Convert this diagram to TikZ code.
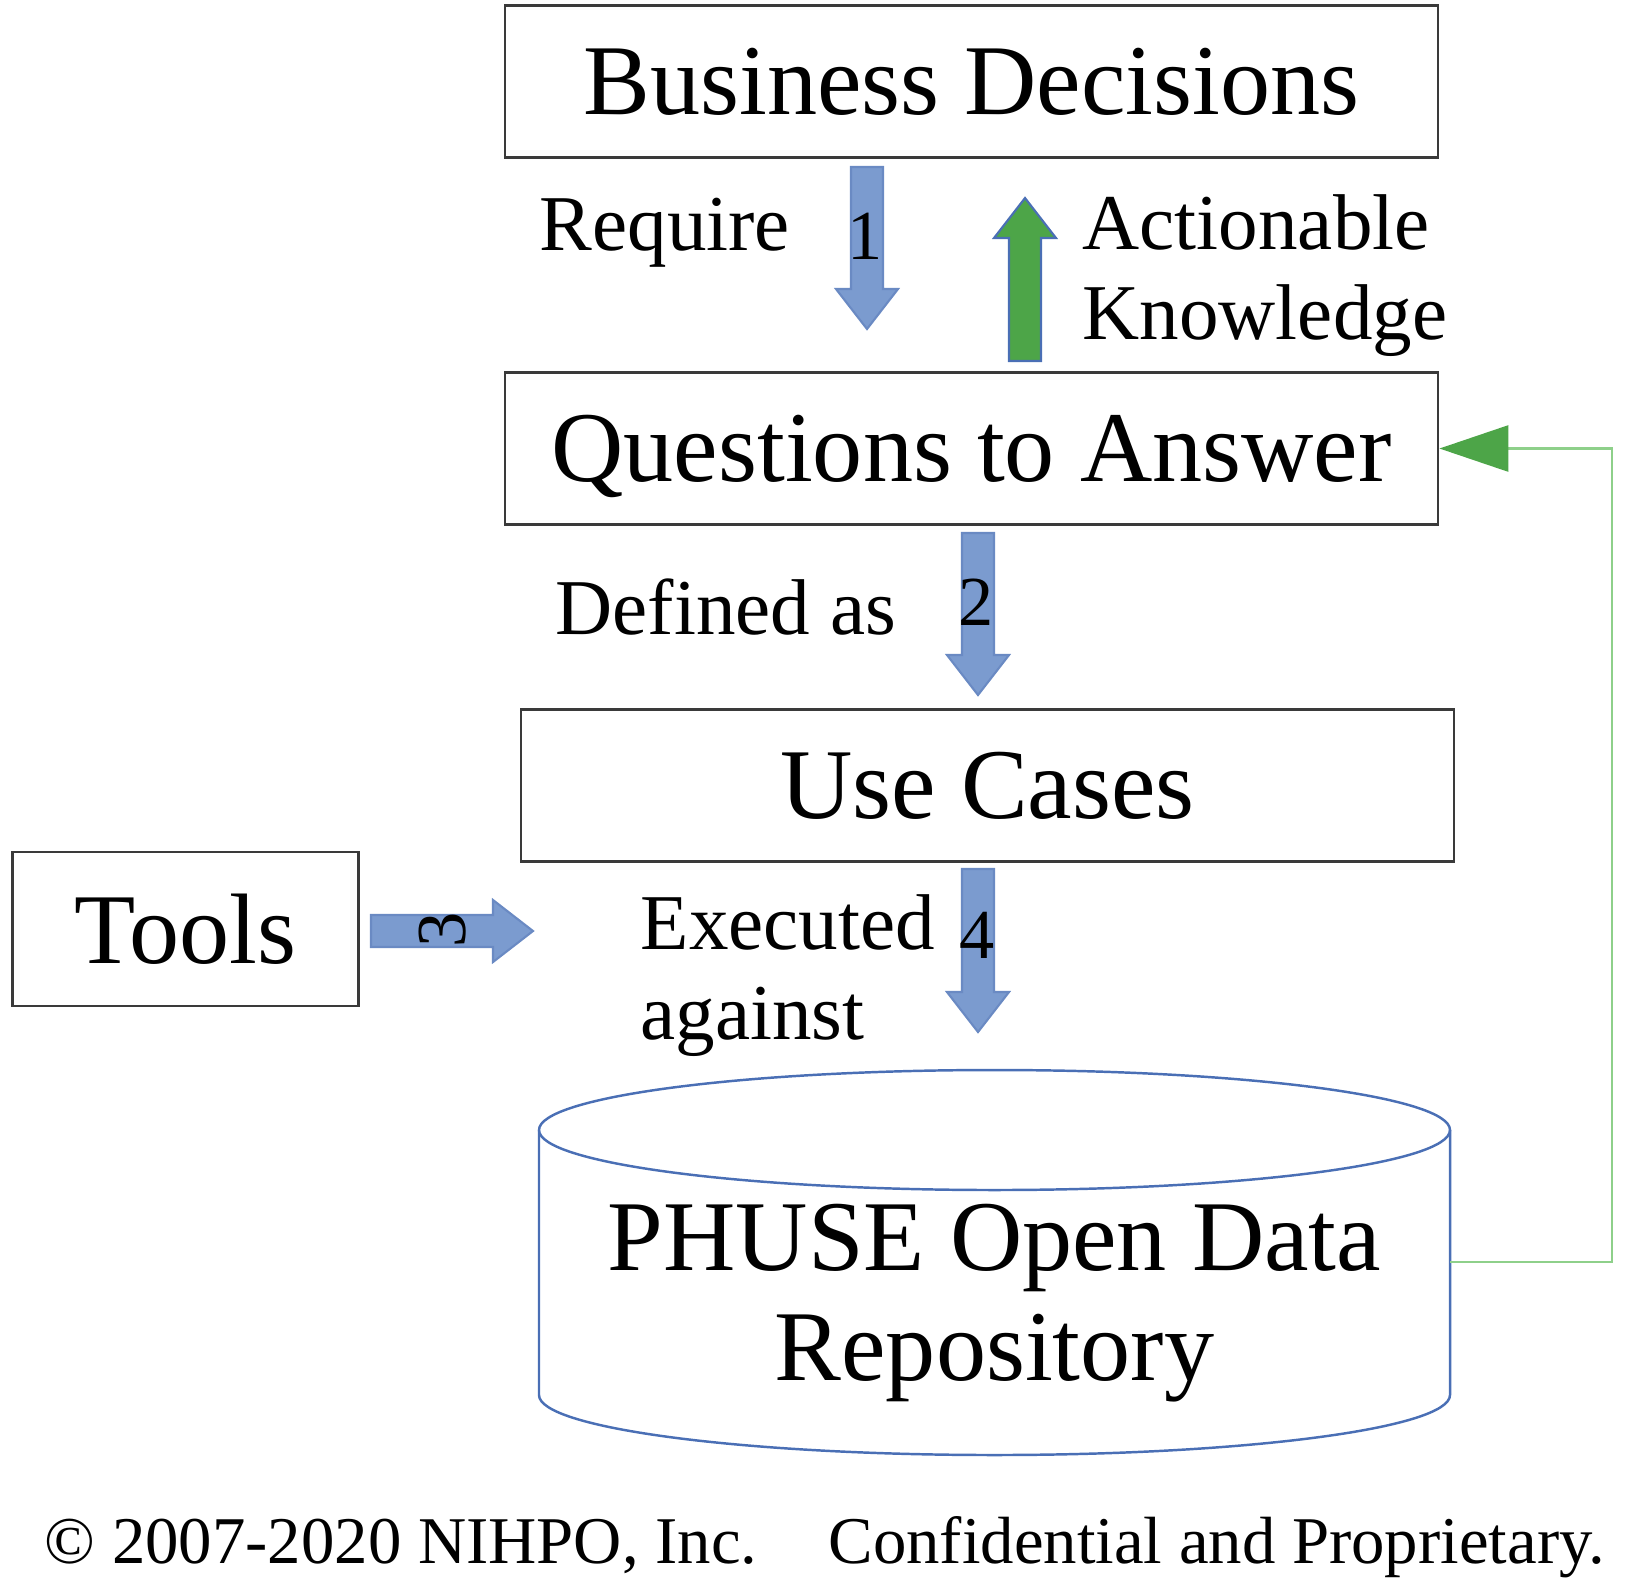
\documentclass[tikz,border=0pt]{standalone}
\usepackage{fontspec}
\setmainfont{Liberation Serif}
\usetikzlibrary{arrows.meta}

\definecolor{boxgrey}{HTML}{3A3A3A}
\definecolor{arrowblue}{HTML}{7B9BCF}
\definecolor{edgeblue}{HTML}{6A8AC3}
\definecolor{repoblue}{HTML}{4A6FB5}
\definecolor{knowgreen}{HTML}{4DA548}
\definecolor{loopgreen}{HTML}{8ED08A}

\def\boxwidth{9.33cm}
\def\boxheight{1.52cm}

\begin{document}
\begin{tikzpicture}
		\tikzstyle{box}=[draw=boxgrey,line width=0.8pt,minimum width=\boxwidth,minimum height=\boxheight,inner sep=0pt,font=\fontsize{28.5}{31.5}\selectfont]
		\tikzstyle{label}=[anchor=base west,inner sep=0pt,align=left,font=\fontsize{22.5}{25.5}\selectfont]
		\tikzstyle{num}=[inner sep=0pt,font=\fontsize{20}{22}\selectfont]
		\tikzstyle{blue arrow}=[fill=arrowblue,draw=edgeblue,line width=0.6pt]
		\tikzstyle{green arrow}=[fill=knowgreen,draw=repoblue,line width=0.6pt]
		\tikzstyle{repo line}=[draw=repoblue,line width=0.7pt]

		\useasboundingbox (0,0) rectangle (16.34,-15.90);

			% Draw the boxes
		\node[box] (decisions) at (9.715,-0.815) {Business Decisions};
		\node[box,text height=0.83cm] (questions) at (9.715,-4.485) {Questions to Answer};
		\node[box] (usecases) at (9.875,-7.855) {Use Cases};
		\node[box,minimum width=3.46cm,minimum height=1.54cm] (tools) at (1.855,-9.29) {Tools};

			% Draw the repository cylinder
		\draw[repo line] (5.39,-11.30) -- (5.39,-13.95)
			arc[start angle=180,end angle=360,x radius=4.555cm,y radius=0.60cm] -- (14.50,-11.30);
		\draw[repo line] (9.945,-11.30) ellipse [x radius=4.555cm,y radius=0.60cm];
		\node[align=center,inner sep=0pt,font=\fontsize{28.5}{31.5}\selectfont] (repo) at (9.945,-13.03) {PHUSE Open Data\\Repository};
		\coordinate (repo-e) at (14.50,-12.62);

			% Draw the block arrows (start, length, rotation)
		\foreach \name / \x / \y / \len / \ang / \look in {A-1/8.67/-1.67/1.62/0/blue arrow,
				A-2/9.78/-5.33/1.62/0/blue arrow, A-3/3.71/-9.31/1.62/90/blue arrow,
				A-4/9.78/-8.69/1.63/0/blue arrow, K/10.25/-3.61/1.63/180/green arrow}
		\draw[\look,shift={(\x,\y)},rotate=\ang] (-0.16,0) -- (0.16,0) -- (0.16,-\len+0.40)
			-- (0.31,-\len+0.40) -- (0,-\len) -- (-0.31,-\len+0.40) -- (-0.16,-\len+0.40) -- cycle;

			% Numbers on the arrows
		\node[num] (n1) at (8.65,-2.36) {1};
		\node[num] (n2) at (9.76,-6.02) {2};
		\node[num] (n3) at (4.43,-9.30) [rotate=90] {3};
		\node[num] (n4) at (9.77,-9.35) {4};

			% Annotate the arrows
		\node[label] (require) at (5.39,-2.50) {Require};
		\node[label] (knowledge) at (10.82,-3.39) {Actionable\\Knowledge};
		\node[label] (defined) at (5.55,-6.34) {Defined as};
		\node[label] (executed) at (6.40,-10.39) {Executed\\against};

			% Feedback from the repository
		\draw[loopgreen,line width=0.8pt,-{Triangle[length=6.9mm,width=4.6mm,color=knowgreen]}]
			(repo-e) -- (16.12,-12.62) |- (questions.east);

		\node[anchor=base west,inner sep=0pt,font=\fontsize{19}{21}\selectfont] (copy) at (0.44,-15.63)
			{© 2007-2020 NIHPO, Inc.\hspace{0.71cm}Confidential and Proprietary.};
\end{tikzpicture}
\end{document}
